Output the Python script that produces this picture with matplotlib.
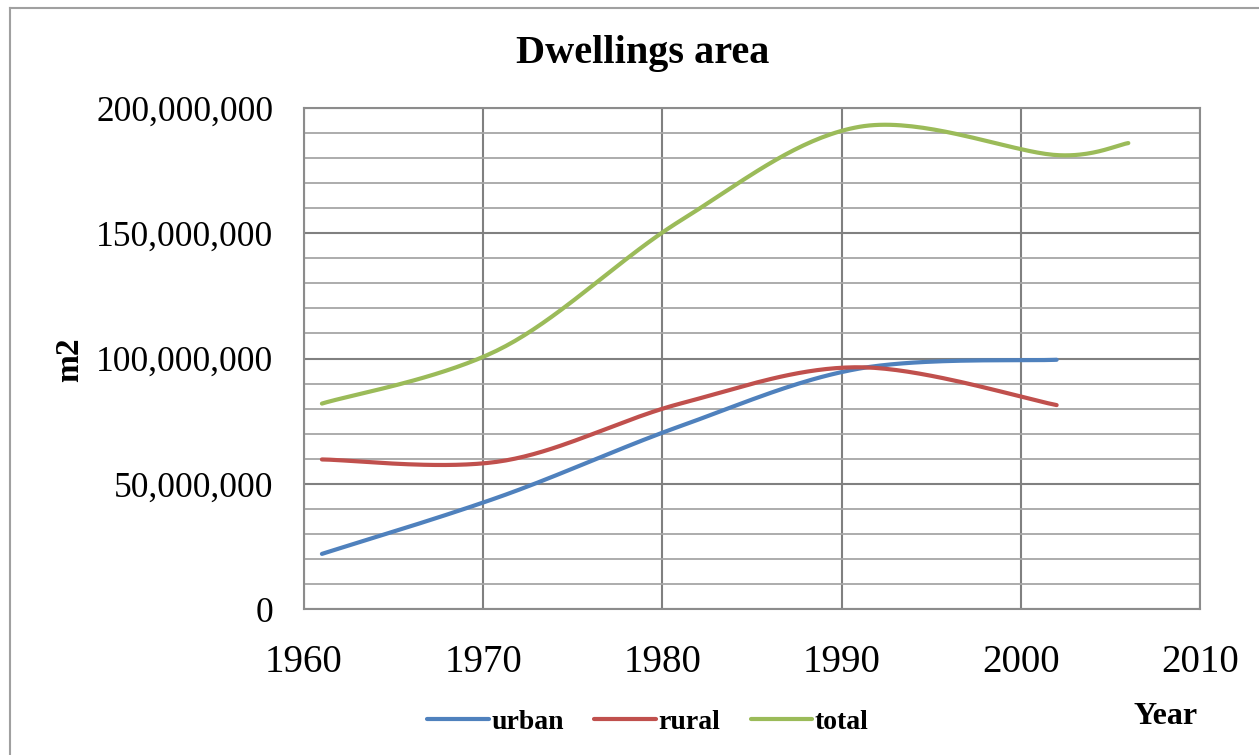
import numpy as np
import matplotlib.pyplot as plt
from matplotlib.lines import Line2D
from matplotlib.ticker import FuncFormatter, MultipleLocator

# ==== data (m2) ====
years = [1961, 1971, 1981, 1991, 2002]
urban = [22.0e6, 45.0e6, 73.0e6, 96.0e6, 99.5e6]
rural = [59.7e6, 59.0e6, 82.0e6, 96.5e6, 81.4e6]
total_years = [1961, 1971, 1981, 1991, 2002, 2006]
total = [82.0e6, 104.0e6, 155.0e6, 192.5e6, 181.2e6, 186.0e6]

series = [("urban", years, urban, "#4F81BD"),
          ("rural", years, rural, "#C0504D"),
          ("total", total_years, total, "#9BBB59")]

W, H = 1259, 755
serif = "Liberation Serif"


def smooth(xs, ys, sx=17.92, sy=2.5e-6, n=40):
    # Excel-like "smoothed line": cubic bezier through the points
    p = np.column_stack([np.asarray(xs, float) * sx, np.asarray(ys, float) * sy])
    out = [p[0]]
    t = np.linspace(0, 1, n)[1:, None]
    for i in range(len(p) - 1):
        p0 = p[i - 1] if i > 0 else p[i]
        p1, p2 = p[i], p[i + 1]
        p3 = p[i + 2] if i + 2 < len(p) else p[i + 1]
        d12 = np.linalg.norm(p2 - p1)
        d02 = np.linalg.norm(p2 - p0)
        d13 = np.linalg.norm(p3 - p1)
        f1 = 1 / 6 if d02 / 6 < d12 / 2 else d12 / (2 * d02)
        f2 = 1 / 6 if d13 / 6 < d12 / 2 else d12 / (2 * d13)
        c1 = p1 + (p2 - p0) * f1
        c2 = p2 - (p3 - p1) * f2
        seg = (1 - t) ** 3 * p1 + 3 * (1 - t) ** 2 * t * c1 + 3 * (1 - t) * t ** 2 * c2 + t ** 3 * p2
        out.extend(seg)
    out = np.array(out)
    return out[:, 0] / sx, out[:, 1] / sy


fig = plt.figure(figsize=(W / 100, H / 100), dpi=100)
ax = fig.add_axes([304 / W, 146 / H, 896 / W, 501 / H])

handles = []
for name, xs, ys, col in series:
    sx_, sy_ = smooth(xs, ys)
    ln, = ax.plot(sx_, sy_, color=col, lw=3, solid_capstyle="round", label=name, zorder=3)
    handles.append(ln)

ax.set_xlim(1960, 2010)
ax.set_ylim(0, 200e6)
ax.xaxis.set_major_locator(MultipleLocator(10))
ax.yaxis.set_major_locator(MultipleLocator(50e6))
ax.yaxis.set_minor_locator(MultipleLocator(10e6))
ax.yaxis.set_major_formatter(FuncFormatter(lambda v, _: f"{int(v):,}"))

ax.grid(which="minor", axis="y", color="#a6a6a6", lw=1.3)
ax.grid(which="major", axis="both", color="#808080", lw=1.5)
ax.set_axisbelow(True)
for s in ax.spines.values():
    s.set_color("#8c8c8c")
    s.set_linewidth(1.5)

ax.tick_params(which="both", length=0)
ax.tick_params(axis="y", pad=22, labelsize=25.5)
ax.tick_params(axis="x", pad=25, labelsize=28)
for lab in ax.get_xticklabels() + ax.get_yticklabels():
    lab.set_fontfamily(serif)

fig.text(643 / W, 1 - 53 / H, "Dwellings area", fontsize=29, fontweight="bold",
         family=serif, ha="center", va="center")
fig.text(70 / W, 1 - 360 / H, "m2", fontsize=24, fontweight="bold", family=serif,
         rotation=90, ha="center", va="center")
fig.text(1166 / W, 1 - 716 / H, "Year", fontsize=23, fontweight="bold", family=serif,
         ha="center", va="center")

fig.legend(handles=handles, loc="center", bbox_to_anchor=(648 / W, 1 - 722 / H), ncol=3,
           frameon=False, prop={"family": serif, "weight": "bold", "size": 20},
           handlelength=2.2, handletextpad=0.1, columnspacing=1.1)

# outer chart frame (top and left edges only are visible)
fig.add_artist(Line2D([10 / W, 1], [1 - 8 / H] * 2, transform=fig.transFigure, color="#a0a0a0", lw=1.5))
fig.add_artist(Line2D([10 / W] * 2, [0, 1 - 8 / H], transform=fig.transFigure, color="#a0a0a0", lw=1.5))

fig.savefig("out.png", dpi=100)
